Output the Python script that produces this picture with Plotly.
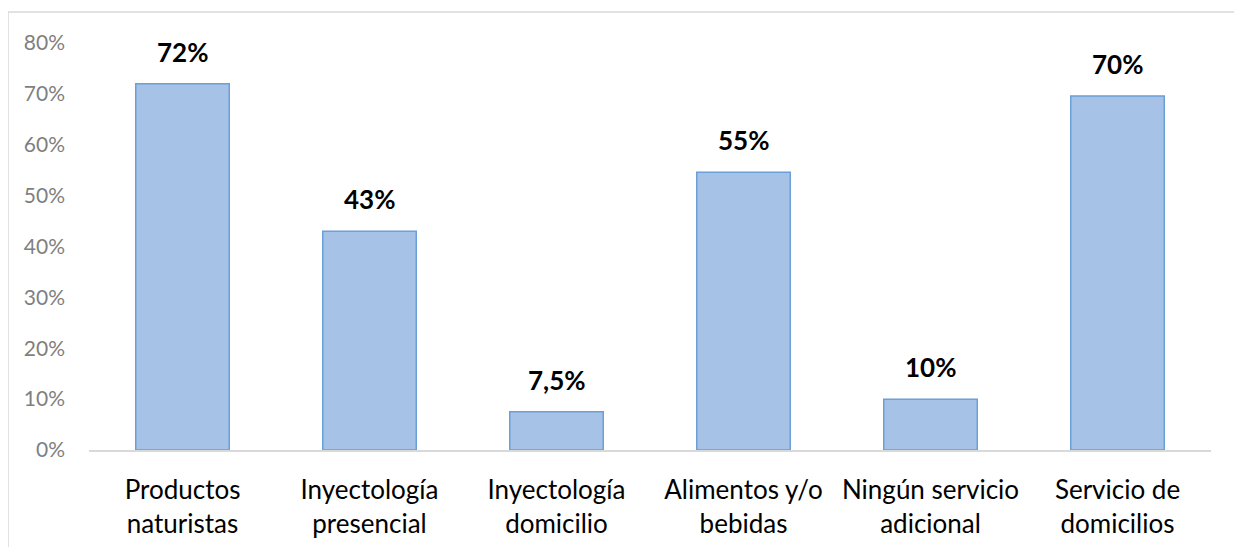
import plotly.graph_objects as go

categories = ["Productos<br>naturistas", "Inyectología<br>presencial", "Inyectología<br>domicilio",
              "Alimentos y/o<br>bebidas", "Ningún servicio<br>adicional", "Servicio de<br>domicilios"]
values = [72, 43, 7.5, 54.6, 10, 69.6]
labels = ["72%", "43%", "7,5%", "55%", "10%", "70%"]
tick_vals = [0, 10, 20, 30, 40, 50, 60, 70, 80]
tick_text = ["0%", "10%", "20%", "30%", "40%", "50%", "60%", "70%", "80%"]

FONT = "Lato, 'Open Sans', sans-serif"

fig = go.Figure()
fig.add_trace(go.Bar(
    x=categories, y=values,
    marker=dict(color="#a6c3e7", line=dict(color="#6a9fd8", width=1.5)),
    width=0.5,
))

for c, v, t in zip(categories, values, labels):
    fig.add_annotation(x=c, y=v, text="<b>%s</b>" % t, showarrow=False,
                       yanchor="bottom", yshift=14,
                       font=dict(family=FONT, size=26, color="#000000"))

fig.add_shape(type="rect", xref="paper", yref="paper",
              x0=(8 - 89) / 1122, x1=(1240 - 89) / 1122,
              y0=(450 - 600) / 407, y1=(450 - 12) / 407,
              line=dict(color="#d9d9d9", width=1.5), fillcolor="rgba(0,0,0,0)", layer="below")

fig.update_layout(
    width=1234, height=539,
    margin=dict(l=81, r=31, t=35, b=97, autoexpand=False),
    paper_bgcolor="white", plot_bgcolor="white",
    showlegend=False,
    font=dict(family=FONT),
    xaxis=dict(showline=True, linecolor="#d9d9d9", linewidth=1.5, ticks="",
               tickfont=dict(family=FONT, size=26, color="#000000"),
               ticklabelstandoff=16, fixedrange=True, automargin=False),
    yaxis=dict(range=[0, 80], tickvals=tick_vals, ticktext=tick_text,
               showgrid=False, zeroline=False, showline=False,
               tickfont=dict(family=FONT, size=21, color="#7f7f7f"),
               ticklabelstandoff=23, fixedrange=True, automargin=False),
)

fig.write_html("out.html")
